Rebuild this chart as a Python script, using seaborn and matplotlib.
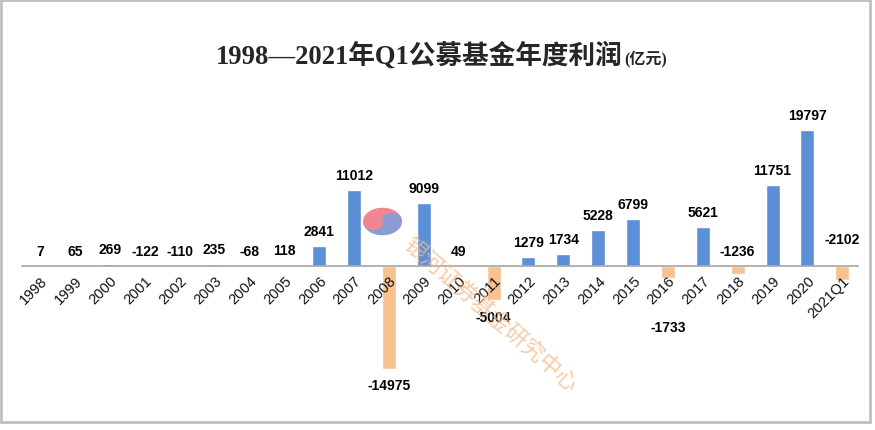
import numpy as np
import pandas as pd
import matplotlib
matplotlib.use("Agg")
import matplotlib.pyplot as plt
from matplotlib.patches import Wedge, Circle, Rectangle
import seaborn as sns

years = ["1998", "1999", "2000", "2001", "2002", "2003", "2004", "2005", "2006",
         "2007", "2008", "2009", "2010", "2011", "2012", "2013", "2014", "2015",
         "2016", "2017", "2018", "2019", "2020", "2021Q1"]
profits = [7, 65, 269, -122, -110, 235, -68, 118, 2841, 11012, -14975, 9099, 49,
           -5004, 1279, 1734, 5228, 6799, -1733, 5621, -1236, 11751, 19797, -2102]
# label placement as in the original: gap in pixels, negative = below the bar
label_gap = [8, 8, 8, 8, 8, 8, 8, 8, 8, 8, -9, 8, 8, -10, 8, 8, 8, 8, -42, 8, 8,
             8, 8, 20]

title_main = "1998—2021年Q1公募基金年度利润"
title_unit = "(亿元)"
watermark = "银河证券基金研究中心"

blue = "#5B8FD6"
orange = "#F8C190"

sns.set_theme(style="white")
plt.rcParams["font.family"] = ["Liberation Sans", "Noto Sans CJK SC", "DejaVu Sans"]

df = pd.DataFrame({"year": years, "profit": profits})
df["sign"] = np.where(df["profit"] >= 0, "pos", "neg")

fig = plt.figure(figsize=(8.75, 4.31), dpi=100)
W, H = 875, 431
ax = fig.add_axes([22 / W, 1 - 400 / H, (858 - 22) / W, (400 - 95) / H])

sns.barplot(data=df, x="year", y="profit", hue="sign",
            palette={"pos": blue, "neg": orange}, width=0.4,
            dodge=False, legend=False, ax=ax, saturation=1)

ylo, yhi = -19360, 25036
ax.set_ylim(ylo, yhi)
ax.set_xlim(-0.52, 23.45)
ax.set_axisbelow(False)
px = (yhi - ylo) / 305.0  # data units per pixel
for name, s in ax.spines.items():
    s.set_visible(name == "bottom")
ax.spines["bottom"].set_position(("data", 0))
ax.spines["bottom"].set_color("#A6A6A6")
ax.spines["bottom"].set_linewidth(1.2)
ax.spines["bottom"].set_zorder(3)
ax.set_yticks([])
ax.set_xlabel("")
ax.set_ylabel("")
ax.tick_params(axis="x", length=0, pad=5)
plt.setp(ax.get_xticklabels(), rotation=45, ha="right", rotation_mode="anchor",
         fontsize=10.5, color="#111111")

for i, v in enumerate(profits):
    g = label_gap[i]
    if g > 0:
        y = max(v, 0) + g * px
        va = "bottom"
    else:
        y = v + g * px
        va = "top"
    ax.text(i, y, str(v), ha="center", va=va, fontsize=10,
            fontweight="bold", color="black")

# title
tfam = ["Liberation Serif", "Noto Sans CJK SC"]
fig.text(623 / W, 1 - 56 / H, title_main, ha="right", va="center", fontsize=19.2,
         fontweight="bold", family=tfam)
fig.text(624 / W, 1 - 59 / H, title_unit, ha="left", va="center", fontsize=11.5,
         fontweight="bold", family=tfam)

# watermark text
fig.text(490 / W, 1 - 315 / H, watermark, rotation=-41, ha="center", va="center",
         fontsize=16, color="#F7B98A", alpha=0.75,
         family=["Noto Sans CJK SC"])

# watermark logo
lax = fig.add_axes([362 / W, 1 - 237 / H, 41 / W, 29 / H])
lax.set_xlim(-1.05, 1.05)
lax.set_ylim(-1.05, 1.05)
lax.axis("off")
pink = "#F08690"
lblue = "#8A9DD2"
ang = 15
lax.add_patch(Wedge((0, 0), 1, ang, ang + 180, color=pink, lw=0))
lax.add_patch(Wedge((0, 0), 1, ang + 180, ang + 360, color=lblue, lw=0))
c = np.cos(np.radians(ang)) * 0.5
s_ = np.sin(np.radians(ang)) * 0.5
lax.add_patch(Circle((-c, -s_), 0.5, color=pink, lw=0))
lax.add_patch(Circle((c, s_), 0.5, color=lblue, lw=0))

# outer border
fig.patches.append(Rectangle((1 / W, 8 / H), 869 / W, 422 / H, fill=False,
                             ec="#BFBFBF", lw=2, transform=fig.transFigure))

fig.savefig("out.png", dpi=100)
